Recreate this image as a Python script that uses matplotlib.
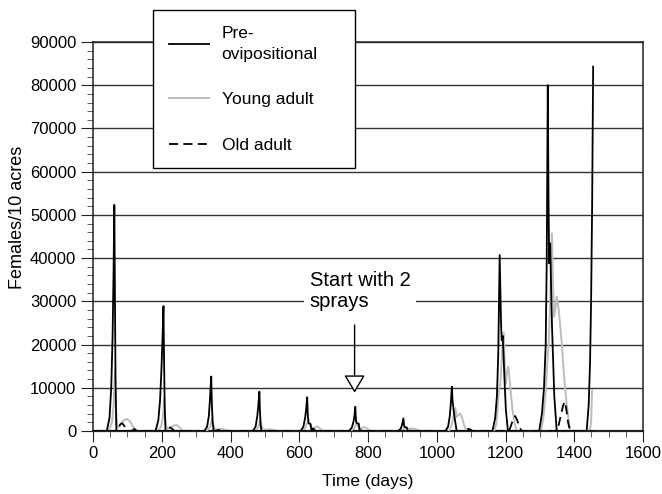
import matplotlib
matplotlib.use("Agg")
import matplotlib.pyplot as plt
from matplotlib.ticker import MultipleLocator

plt.rcParams['font.family'] = ['Liberation Sans', 'DejaVu Sans']

# ---------------- data ----------------
pre_days = [0, 40, 48, 53, 57, 60, 62, 63.5, 65.5, 68,
            182, 190, 195, 199, 202, 205, 206.5, 208.5, 211,
            324, 332, 337, 340, 342, 344, 345.5, 348, 351,
            465, 473, 478, 481, 484, 485.5, 487.5, 490,
            604, 612, 617, 620, 623, 625, 627, 633, 636,
            745, 753, 758, 761, 763, 765, 767, 773, 776,
            888, 895, 899, 903, 905, 907, 913, 916,
            1025, 1033, 1038, 1041, 1044, 1046, 1049, 1053, 1058,
            1162, 1170, 1175, 1179, 1183, 1187, 1189, 1192, 1196, 1201, 1207,
            1298, 1306, 1312, 1317, 1320, 1323, 1325, 1327, 1330, 1335, 1342, 1349,
            1436, 1442, 1446, 1449, 1452, 1455]
pre_vals = [0, 0, 3000, 10000, 22000, 38000, 52300, 35000, 12000, 0,
            0, 2500, 7000, 14000, 21000, 28900, 18000, 6000, 0,
            0, 1000, 3500, 7000, 10000, 12600, 7000, 2000, 0,
            0, 1000, 3500, 6000, 9100, 5000, 1500, 0,
            0, 1000, 3000, 5000, 7800, 3500, 1800, 1600, 0,
            0, 800, 2200, 3800, 5600, 2500, 1800, 1700, 0,
            0, 500, 1400, 2930, 1200, 900, 800, 0,
            0, 1000, 3500, 6500, 10250, 7000, 4860, 2500, 0,
            0, 3000, 8000, 18000, 40700, 25000, 21000, 22000, 14000, 5000, 0,
            0, 4000, 10000, 20000, 40000, 80000, 55000, 38800, 43400, 25000, 8000, 0,
            0, 6000, 16000, 30000, 52000, 84300]

young_days = [0, 46, 55, 60, 64, 66, 69, 72, 80, 90, 99, 108, 118, 130,
              188, 198, 203, 207, 209, 212, 218, 228, 236, 243, 250, 256, 263,
              330, 340, 347, 350, 354, 362, 375, 390, 400,
              470, 480, 487, 490, 494, 502, 515, 530, 540,
              608, 618, 627, 630, 634, 642, 652, 662, 672,
              750, 760, 767, 770, 774, 780, 790, 800, 810,
              892, 902, 907, 910, 915, 930, 945, 955,
              1036, 1044, 1050, 1054, 1058, 1063, 1068, 1074, 1080, 1086,
              1168, 1174, 1178, 1181, 1185, 1190, 1195, 1198, 1201, 1204, 1208, 1213, 1220, 1227, 1233,
              1303, 1310, 1316, 1321, 1326, 1330, 1335, 1338, 1341, 1345, 1349, 1355, 1363, 1370, 1378, 1388,
              1445, 1449, 1452]
young_vals = [0, 0, 2000, 6000, 14100, 7000, 2000, 800, 1500, 2500, 2780, 2200, 800, 0,
              0, 1000, 3000, 7500, 4000, 1200, 400, 900, 1300, 1390, 1000, 400, 0,
              0, 800, 2900, 1500, 500, 300, 500, 200, 0,
              0, 700, 2500, 1300, 500, 300, 400, 200, 0,
              0, 800, 2800, 1600, 700, 600, 1100, 500, 0,
              0, 600, 2000, 1300, 700, 600, 900, 400, 0,
              0, 400, 1000, 700, 500, 600, 300, 0,
              0, 1500, 4000, 5300, 3200, 3700, 4000, 3000, 1200, 0,
              0, 2000, 6000, 9500, 11000, 18000, 22700, 15000, 11000, 13500, 14900, 11000, 5000, 1500, 0,
              0, 3000, 8000, 15000, 21000, 30000, 45700, 35000, 26400, 28000, 31100, 28000, 21000, 13000, 6000, 0,
              0, 2000, 9500]

old_days = [0, 68, 74, 80, 85, 90, 96, 102, 112, 120, 128,
            212, 218, 224, 230, 238,
            355, 365, 375,
            495, 505, 515,
            632, 640, 648,
            775, 782, 790,
            912, 920, 928,
            1080, 1086, 1092, 1098, 1104,
            1210, 1216, 1222, 1228, 1234, 1240, 1247,
            1348, 1355, 1362, 1368, 1373, 1377, 1382, 1388, 1455]
old_vals = [0, 0, 800, 1600, 1780, 1300, 400, 0, 0, 450, 0,
            0, 500, 850, 500, 0,
            0, 250, 0,
            0, 200, 0,
            0, 600, 0,
            0, 300, 0,
            0, 200, 0,
            0, 300, 500, 300, 0,
            0, 1200, 2800, 3470, 2500, 1000, 0,
            0, 1500, 4000, 6000, 6800, 5000, 2000, 0, 0]

series_labels = ["Pre-\novipositional", "Young adult", "Old adult"]
x_ticks = [0, 200, 400, 600, 800, 1000, 1200, 1400, 1600]
y_ticks = [0, 10000, 20000, 30000, 40000, 50000, 60000, 70000, 80000, 90000]

# ---------------- figure ----------------
fig = plt.figure(figsize=(6.62, 4.94), dpi=100)
ax = fig.add_axes([93/662, 1-431/494, 550/662, 389/494])

ax.set_xlim(0, 1600)
ax.set_ylim(0, 90000)
ax.set_xticks(x_ticks)
ax.set_yticks(y_ticks)
ax.xaxis.set_minor_locator(MultipleLocator(50))
ax.yaxis.set_minor_locator(MultipleLocator(2000))
ax.tick_params(axis='both', which='major', labelsize=12, direction='out', color='#222222', pad=3)
ax.tick_params(axis='x', which='major', length=8)
ax.tick_params(axis='y', which='major', length=9)
ax.tick_params(axis='both', which='minor', length=4, direction='out', color='#444444')
for s in ax.spines.values():
    s.set_color('#222222')
    s.set_linewidth(1.1)
ax.spines['bottom'].set_linewidth(1.6)

ax.yaxis.grid(True, color='#333333', linewidth=1.0)
ax.set_axisbelow(True)

l_young, = ax.plot(young_days, young_vals, color='#bdbdbd', lw=1.4, label=series_labels[1], zorder=3)
l_pre, = ax.plot(pre_days, pre_vals, color='black', lw=1.3, label=series_labels[0], zorder=4)
l_old, = ax.plot(old_days, old_vals, color='black', lw=1.3, ls=(0, (5, 3)), label=series_labels[2], zorder=5)

ax.set_xlabel("Time (days)", fontsize=12.5, labelpad=9)
ax.set_ylabel("Females/10 acres", fontsize=13)
ax.yaxis.set_label_coords(-0.122, 0.548)

# annotation
ax.text(631, 32400, "Start with 2\nsprays", fontsize=14.5, va='center', ha='left',
        linespacing=1.15, zorder=6,
        bbox=dict(facecolor='white', edgecolor='none', pad=4))
ax.annotate('', xy=(761, 8860), xytext=(761, 24520),
            arrowprops=dict(arrowstyle='-|>,head_length=0.55,head_width=0.33',
                            fc='white', ec='black', lw=1.0, mutation_scale=20,
                            shrinkA=0, shrinkB=0), zorder=6)

leg = fig.legend(handles=[l_pre, l_young, l_old], labels=series_labels,
                 loc='upper left', bbox_to_anchor=(153/662, 1-163/494, 202/662, 153/494),
                 mode='expand', fontsize=12.5, frameon=True, fancybox=False,
                 edgecolor='black', facecolor='white', framealpha=1,
                 handlelength=2.3, handletextpad=0.75, labelspacing=1.75,
                 borderpad=0.9, borderaxespad=0)
leg.get_frame().set_linewidth(1.0)
for t in leg.get_texts():
    t.set_linespacing(1.5)

fig.savefig("out.png", dpi=100, facecolor='white')
